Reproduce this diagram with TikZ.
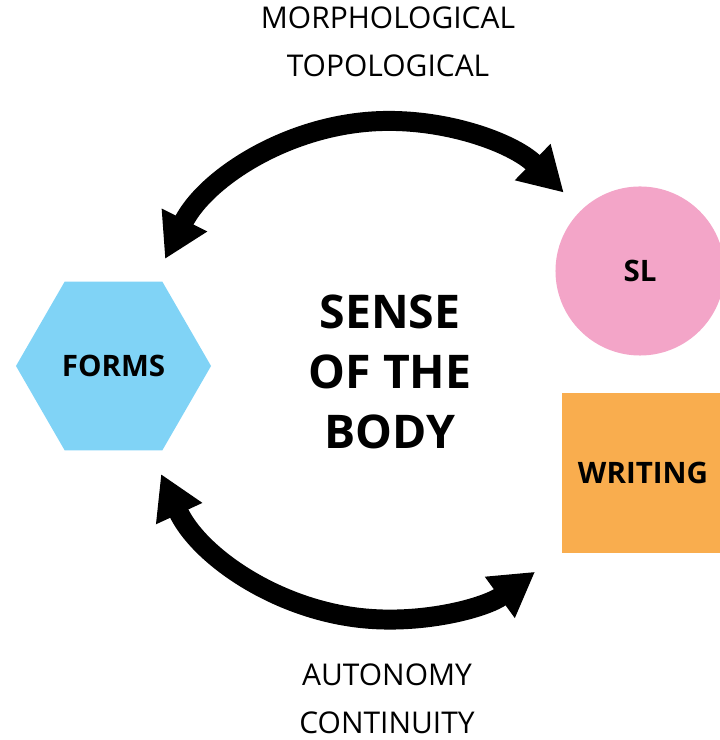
\documentclass[tikz,border=0pt]{standalone}
\usepackage{fontspec}
\setmainfont{Open Sans}
\usetikzlibrary{arrows.meta,shapes.geometric}

\definecolor{formblue}{HTML}{80D3F6}
\definecolor{slpink}{HTML}{F3A5C8}
\definecolor{writeorange}{HTML}{F9AD4E}

\tikzset{
  bigarrow/.style={line width=14.2pt,
    {Triangle[length=31pt,width=34pt]}-{Triangle[length=31pt,width=34pt]}},
  boxtext/.style={font=\bfseries\fontsize{21}{25}\selectfont},
  sidetext/.style={align=center,inner sep=0pt,font=\fontsize{21.3}{34}\selectfont}
}

\begin{document}
\begin{tikzpicture}[x=0.025cm,y=0.025cm]
\useasboundingbox (0,0) rectangle (719,740);

% the three shapes
\node[regular polygon,regular polygon sides=6,minimum size=4.875cm,
      inner sep=0pt,fill=formblue,boxtext] (forms) at (113.5,374) {FORMS};
\node[circle,minimum size=4.225cm,fill=slpink,boxtext] (sl) at (640,469) {SL};
\node[rectangle,minimum width=4.05cm,minimum height=4cm,
      fill=writeorange,boxtext] (writing) at (643,267) {WRITING};

\node[align=center,font=\bfseries\fontsize{33}{42.7}\selectfont] (sense)
  at (390,368) {SENSE\\OF THE\\BODY};

\node[sidetext] (morph) at (388,698) {MORPHOLOGICAL\\TOPOLOGICAL};
\node[sidetext] (auto) at (387,41) {AUTONOMY\\CONTINUITY};

% arrow ends
\coordinate (morph-l) at (165,481);
\coordinate (auto-l) at (161,266);

\draw[bigarrow] (morph-l) arc[start angle=153.4,end angle=45.5,radius=250];
\draw[bigarrow] (auto-l) arc[start angle=204.7,end angle=306,radius=250];
\end{tikzpicture}
\end{document}
